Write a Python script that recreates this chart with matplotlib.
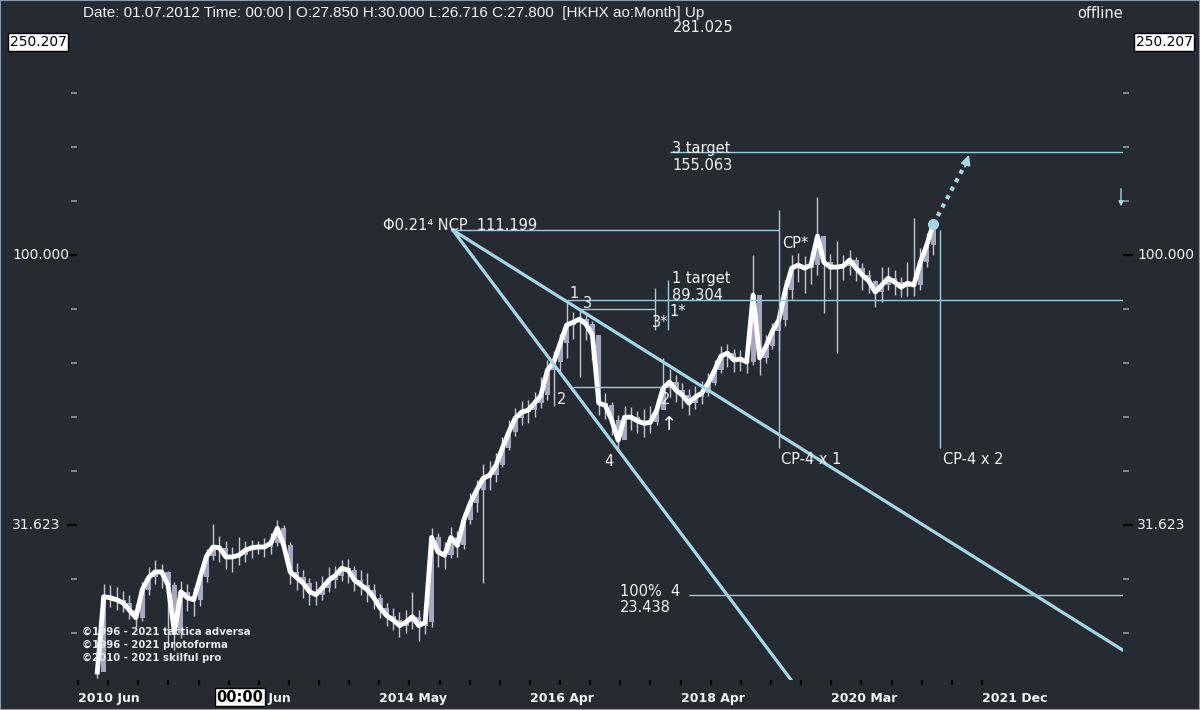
import numpy as np
import matplotlib
matplotlib.use("Agg")
import matplotlib.pyplot as plt
from matplotlib import transforms
from matplotlib.patches import Rectangle
from matplotlib.ticker import FixedLocator, NullFormatter

# ---------------- data ----------------
# bar index = months since 2010 Jun (monthly bars)
months = list(range(3, 134))
close = [16.9, 23.3, 23.2, 23.0, 22.7, 22.0, 21.3, 24.0, 25.3, 25.9,
         25.9, 24.5, 20.0, 23.8, 23.2, 23.0, 25.3, 27.7, 28.8, 28.7,
         27.6, 27.6, 27.8, 28.4, 28.7, 28.8, 28.8, 29.3, 31.2, 29.0,
         25.9, 25.3, 24.7, 23.8, 23.5, 24.2, 25.0, 25.5, 26.3, 26.1,
         25.0, 24.5, 24.0, 23.2, 22.2, 21.5, 21.1, 20.6, 20.9, 21.4,
         20.6, 20.9, 30.0, 28.2, 27.8, 30.0, 29.0, 32.3, 34.7, 36.7,
         38.6, 39.1, 40.8, 43.9, 47.0, 49.9, 51.2, 51.6, 53.2, 55.0,
         61.2, 63.4, 68.7, 74.2, 75.1, 76.1, 74.5, 71.1, 53.2, 52.7,
         49.5, 45.4, 50.1, 50.1, 49.3, 48.8, 49.0, 51.6, 56.7, 58.2,
         56.2, 55.0, 53.2, 54.6, 55.5, 57.9, 61.2, 65.0, 65.8, 63.9,
         64.2, 63.4, 84.3, 64.5, 67.8, 72.3, 75.8, 86.1, 94.6, 95.8,
         94.6, 95.8, 108.4, 97.0, 95.0, 95.0, 95.4, 97.9, 94.6, 91.8,
         89.5, 85.4, 88.0, 90.6, 89.1, 87.2, 88.7, 88.0, 97.0, 104.3,
         114.0]
high = [17.5, 24.6, 24.5, 24.3, 23.9, 23.5, 22.6, 24.8, 26.5, 27.2,
        26.8, 26.0, 24.8, 24.9, 24.6, 24.2, 26.2, 28.6, 31.8, 30.2,
        29.5, 28.8, 30.0, 29.5, 29.7, 29.6, 29.9, 30.6, 32.3, 31.6,
        29.4, 26.9, 26.1, 25.2, 24.9, 25.4, 26.5, 26.6, 27.2, 27.4,
        26.6, 26.1, 25.8, 24.6, 23.6, 22.7, 22.2, 21.8, 22.0, 23.8,
        22.0, 22.6, 31.2, 30.6, 29.4, 31.4, 30.8, 33.5, 36.2, 38.4,
        41.0, 41.5, 43.0, 46.0, 49.5, 52.0, 53.6, 54.0, 55.8, 59.5,
        64.0, 66.5, 71.5, 82.3, 78.5, 79.4, 77.5, 75.5, 70.0, 55.6,
        53.5, 50.5, 52.6, 52.3, 51.5, 51.8, 52.5, 54.0, 64.5, 61.5,
        60.0, 58.0, 56.5, 57.2, 58.4, 60.6, 64.0, 68.0, 68.5, 67.0,
        66.8, 67.0, 100.0, 80.0, 71.0, 75.0, 79.5, 90.0, 100.0, 101.0,
        99.5, 101.5, 128.0, 108.0, 100.5, 106.0, 100.0, 102.0, 99.0, 96.5,
        94.0, 90.0, 95.0, 95.0, 94.0, 91.0, 97.0, 117.0, 103.0, 110.0,
        116.0]
low = [16.5, 17.0, 22.3, 22.0, 21.8, 21.2, 20.5, 21.0, 23.5, 24.6,
       24.2, 19.0, 18.6, 19.5, 21.9, 21.5, 22.4, 24.8, 27.2, 27.0,
       26.2, 25.9, 26.7, 27.0, 27.5, 27.9, 27.6, 28.0, 28.9, 28.2,
       24.6, 24.0, 23.2, 22.5, 22.5, 23.0, 23.8, 24.2, 24.9, 24.7,
       23.9, 23.5, 22.8, 22.1, 21.3, 20.6, 20.2, 19.6, 20.0, 20.3,
       19.3, 19.9, 20.5, 26.5, 26.2, 27.5, 27.6, 28.6, 31.8, 33.5,
       24.7, 36.8, 38.0, 40.5, 43.5, 46.2, 48.5, 48.9, 50.2, 52.0,
       54.0, 52.5, 61.0, 64.5, 70.0, 59.4, 69.5, 64.0, 50.5, 49.8,
       46.5, 43.6, 46.0, 47.5, 46.8, 46.0, 46.8, 48.5, 52.0, 54.5,
       53.5, 52.0, 50.5, 51.8, 53.0, 54.8, 57.5, 60.5, 62.0, 60.8,
       61.0, 60.5, 62.5, 60.0, 63.0, 67.0, 66.5, 74.0, 83.0, 89.0,
       85.0, 88.5, 92.0, 78.0, 86.5, 65.8, 90.0, 92.0, 89.5, 86.0,
       85.0, 80.0, 82.0, 86.0, 84.5, 83.5, 84.0, 84.0, 86.0, 95.0,
       100.0]

tick_labels = ["2010 Jun", "2012 Jun", "2014 May", "2016 Apr",
               "2018 Apr", "2020 Mar", "2021 Dec"]
y_major = [100.0, 31.623]
y_major_labels = ["100.000", "31.623"]
y_top = 250.207

# annotation levels (value units) and anchor months
apex = (58.3, 111.199)              # NCP point
steep_end = (112.0, 15.7)
shallow_end = (162.5, 18.55)
ncp_line = (58.3, 109.0, 111.199)   # x0, x1, level
target1_line = (76.0, 170.0, 82.6)
target3_line = (92.1, 170.0, 155.063)
pct100_line = (95.0, 170.0, 23.438)
level3_line = (77.8, 89.7, 79.4)
level2_line = (77.0, 90.8, 56.94)
vert_3star = (89.7, 72.6, 86.9)
vert_1star = (91.8, 72.6, 89.9)
vert_cp1 = (109.0, 43.9, 121.1)
vert_cp2 = (134.1, 43.9, 111.2)
proj_end = (138.7, 155.063)

# ---------------- figure ----------------
W, H = 1200, 710
BG = "#262a33"
LB = "#a6d6e6"
fig = plt.figure(figsize=(W / 100, H / 100), dpi=100, facecolor=BG)
L_, R_, T_, B_ = 77, 1123, 40, 680
ax = fig.add_axes([L_ / W, 1 - B_ / H, (R_ - L_) / W, (B_ - T_) / H])
ax.set_facecolor(BG)
ax.set_yscale("log")
ppd = 540.0  # pixels per decade
ymin = 10 ** (np.log10(y_top) - (B_ - T_) / ppd)
ax.set_ylim(ymin, y_top)
ppm = 6.43   # pixels per month
ax.set_xlim((L_ - 78) / ppm, (R_ - 78) / ppm)
for s in ax.spines.values():
    s.set_visible(False)


def T(x, y, s, **kw):
    d = dict(color="#eef3f6", fontsize=10.5, va="center", ha="left",
             family="DejaVu Sans")
    d.update(kw)
    return fig.text(x / W, 1 - y / H, s, **d)


# copyright (drawn under the chart)
for i, s in enumerate(["\u00a91996 - 2021 tactica adversa",
                       "\u00a91996 - 2021 protoforma",
                       "\u00a92010 - 2021 skilful pro"]):
    T(82, 632 + i * 13, s, fontsize=7.3, fontweight="bold", color="#e6e6ee",
      zorder=0)

m = np.array(months, dtype=float)
c = np.array(close)
o = np.concatenate([[close[0]], close[:-1]])
# wicks
ax.vlines(m, low, high, color="#c4c4d2", lw=1.0, zorder=2)
# bodies
ax.bar(m, np.abs(c - o), bottom=np.minimum(c, o), width=0.8,
       color="#a7a7c2", zorder=2.5, log=True)
# close line
ax.plot(m, c, color="white", lw=3.5, zorder=3, solid_joinstyle="round")
ax.plot([m[-1]], [c[-1]], "o", color=LB, ms=7, zorder=4)

# projection
ax.plot([m[-1], proj_end[0] - 0.5], [c[-1], proj_end[1] * 0.96],
        color=LB, lw=3, linestyle=(0, (1, 1.3)), zorder=4)
ax.annotate("", xy=proj_end, xytext=(proj_end[0] - 0.9, proj_end[1] * 0.93),
            arrowprops=dict(arrowstyle="-|>", color=LB, lw=1.5,
                            mutation_scale=14), zorder=4)

# diagonals
ax.plot([apex[0], steep_end[0]], [apex[1], steep_end[1]], color=LB, lw=2.3, zorder=5)
ax.plot([apex[0], shallow_end[0]], [apex[1], shallow_end[1]], color=LB, lw=2.3, zorder=5)

# horizontal level lines
for x0, x1, lv in [ncp_line, target1_line, target3_line, pct100_line,
                   level3_line, level2_line]:
    ax.hlines(lv, x0, x1, color="#9ccadb", lw=1.0, zorder=5)
for xv, y0, y1 in [vert_3star, vert_1star, vert_cp1, vert_cp2]:
    ax.vlines(xv, y0, y1, color="#9ccadb", lw=1.0, zorder=5)

# y ticks
minor = [10 ** (k / 10) for k in range(12, 25) if k not in (15, 20)]
ax.yaxis.set_major_locator(FixedLocator(y_major))
ax.yaxis.set_minor_locator(FixedLocator(minor))
ax.yaxis.set_major_formatter(NullFormatter())
ax.yaxis.set_minor_formatter(NullFormatter())
ax.tick_params(axis="y", which="major", left=True, right=True, length=7,
               width=1.6, color="black")
ax.tick_params(axis="y", which="minor", left=True, right=True, length=4,
               width=1.4, color="#80858f")
tr = transforms.blended_transform_factory(fig.transFigure, ax.transData)
for v, s in zip(y_major, y_major_labels):
    fig.text(12 / W, v, s, transform=tr, color="#eef3f6", fontsize=10,
             va="center", ha="left")
    fig.text(1137 / W, v, s, transform=tr, color="#eef3f6", fontsize=10,
             va="center", ha="left")

# x ticks
step = 23.43 / 5
allpos = [k * step for k in range(31)]
ax.xaxis.set_major_locator(FixedLocator(allpos[::5]))
ax.xaxis.set_minor_locator(FixedLocator([p for i, p in enumerate(allpos) if i % 5]))
ax.set_xticklabels(tick_labels, ha="left", fontsize=9, fontweight="bold",
                   color="#eef3f6")
ax.tick_params(axis="x", which="both", length=3.5, width=1.6, color="black",
               pad=5, direction="out")

# annotation texts
T(383, 225, "\u03a60.21\u2074 NCP  111.199", fontsize=10.5)
T(569, 294, "1")
T(583, 304, "3")
T(652, 322, "3*")
T(669, 311, "1*")
T(672, 279, "1 target")
T(672, 296, "89.304")
T(557, 400, "2")
T(661, 400, "2")
T(661, 424, "\u2191", fontsize=14)
T(604, 462, "4")
T(782, 243, "CP*")
T(781, 460, "CP-4 x 1")
T(943, 460, "CP-4 x 2")
T(672, 148, "3 target")
T(672, 165, "155.063")
T(620, 591, "100%  4")
T(620, 607, "23.438")

# header
T(83, 13, "Date: 01.07.2012 Time: 00:00 | O:27.850 H:30.000 L:26.716 "
          "C:27.800  [HKHX ao:Month] Up", family="Liberation Sans",
  fontsize=11)
T(703, 27, "281.025", ha="center", fontsize=10.5)
T(1123, 13, "offline", ha="right", fontsize=10.5)

box = dict(boxstyle="square,pad=0.12", facecolor="white", edgecolor="black", lw=1)
T(38, 42, "250.207", ha="center", color="black", fontsize=10, bbox=box)
T(1164, 42, "250.207", ha="center", color="black", fontsize=10, bbox=box)
T(240, 697, "00:00", ha="center", color="black", fontsize=10.5,
  fontweight="bold", bbox=box, zorder=10)

# small marker at right edge
fig.add_artist(matplotlib.patches.FancyArrowPatch(
    (1121 / W, 1 - 186 / H), (1121 / W, 1 - 209 / H),
    transform=fig.transFigure, arrowstyle="-|>", mutation_scale=7,
    color=LB, lw=1))

fig.add_artist(Rectangle((0, 0), 1, 1, transform=fig.transFigure, fill=False,
                         edgecolor="#8e9aab", lw=1.5))

fig.savefig("out.png", dpi=100, facecolor=BG)
